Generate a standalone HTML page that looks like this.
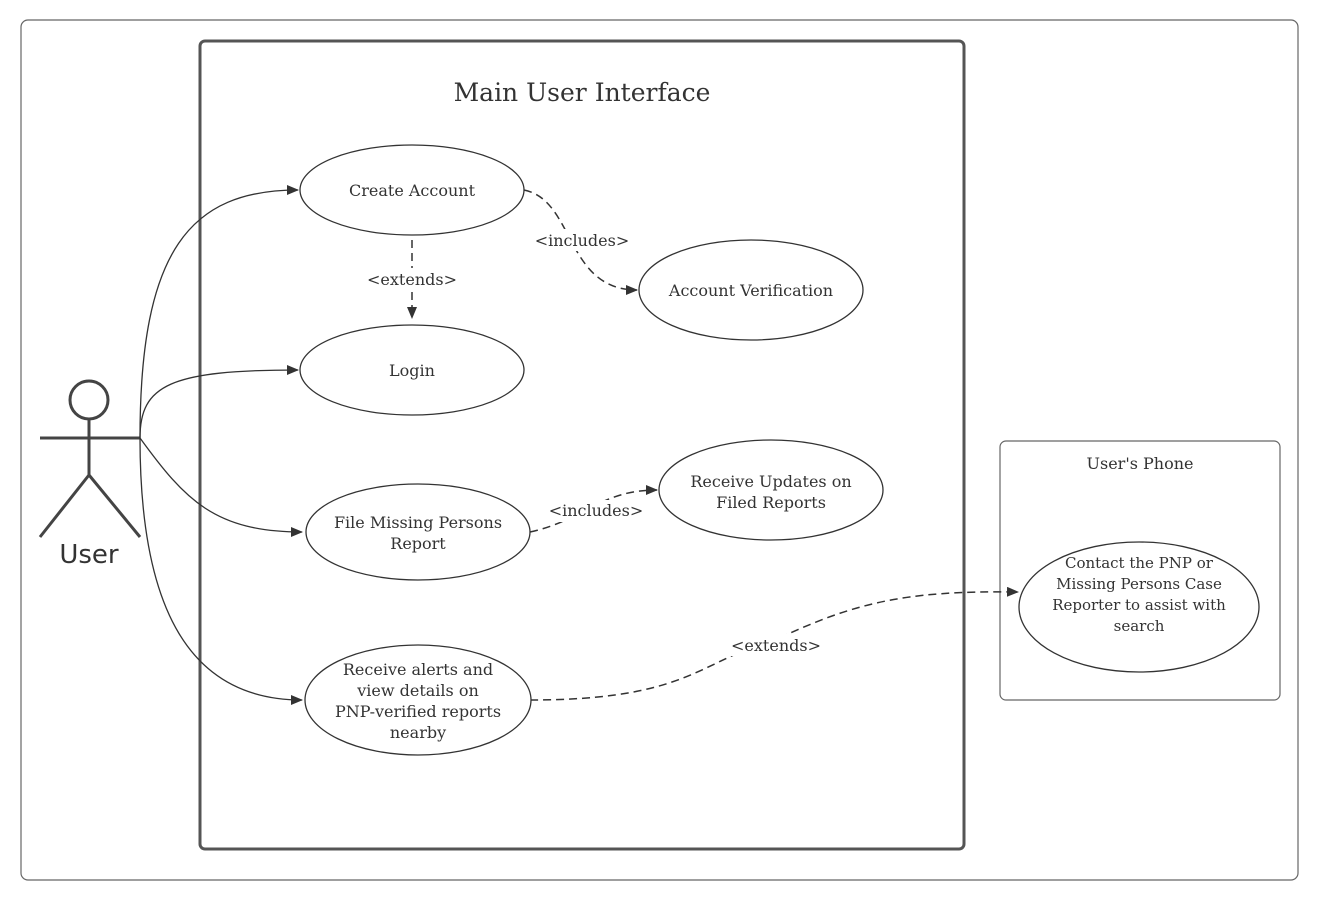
<!DOCTYPE html>
<html><head><meta charset="utf-8"><style>
html,body{margin:0;padding:0;background:#fff;}
svg{display:block;}
text{font-family:"DejaVu Serif","Liberation Serif",serif;fill:#333;}
</style></head><body>
<svg width="1318" height="900" viewBox="0 0 1318 900" xmlns="http://www.w3.org/2000/svg">
<defs>
<marker id="a" markerWidth="12" markerHeight="10" refX="11" refY="5" orient="auto" markerUnits="userSpaceOnUse">
<path d="M0,0 L12,5 L0,10 Z" fill="#333"/></marker>
</defs>
<rect x="21" y="20" width="1277" height="860" rx="7" fill="none" stroke="#666" stroke-width="1.2"/>
<rect x="200" y="41" width="764" height="808" rx="5" fill="none" stroke="#555" stroke-width="3"/>
<text x="582" y="101" font-size="25" text-anchor="middle">Main User Interface</text>
<rect x="1000" y="441" width="280" height="259" rx="6" fill="none" stroke="#666" stroke-width="1.2"/>
<text x="1140" y="469" font-size="16" text-anchor="middle">User's Phone</text>

<g stroke="#444" stroke-width="3" fill="none">
<circle cx="89" cy="400" r="19"/>
<line x1="89" y1="419" x2="89" y2="475"/>
<line x1="40" y1="438" x2="140" y2="438"/>
<line x1="89" y1="475" x2="40" y2="537"/>
<line x1="89" y1="475" x2="140" y2="537"/>
</g>
<text x="89" y="563" font-size="26" text-anchor="middle" style="font-family:'DejaVu Sans','Liberation Sans',sans-serif">User</text>

<g stroke="#333" stroke-width="1.3" fill="none" marker-end="url(#a)">
<path d="M140,438 C140,250 190,190 298,190"/>
<path d="M140,438 C140,385 170,370 298,370"/>
<path d="M140,438 C185,500 215,532 302,532"/>
<path d="M140,438 C140,610 190,700 302,700"/>
</g>
<g stroke="#333" stroke-width="1.5" fill="none" stroke-dasharray="8,5" marker-end="url(#a)">
<path d="M524,190 C575,200 565,290 637,290"/>
<path d="M412,240 L412,318"/>
<path d="M530,532 C585,520 600,490 657,490"/>
<path d="M530,700 C690,700 700,660 775,640 C850,605 900,590 1018,592"/>
</g>
<g font-size="16" text-anchor="middle">
<rect x="535" y="229" width="95" height="22" fill="#fff"/>
<text x="582" y="246">&lt;includes&gt;</text>
<rect x="366" y="268" width="92" height="22" fill="#fff"/>
<text x="412" y="285">&lt;extends&gt;</text>
<rect x="549" y="500" width="95" height="22" fill="#fff"/>
<text x="596" y="516">&lt;includes&gt;</text>
<rect x="730" y="634" width="92" height="22" fill="#fff"/>
<text x="776" y="651">&lt;extends&gt;</text>
</g>

<g fill="#fff" stroke="#333" stroke-width="1.3">
<ellipse cx="412" cy="190" rx="112" ry="45"/>
<ellipse cx="412" cy="370" rx="112" ry="45"/>
<ellipse cx="751" cy="290" rx="112" ry="50"/>
<ellipse cx="418" cy="532" rx="112" ry="48"/>
<ellipse cx="771" cy="490" rx="112" ry="50"/>
<ellipse cx="418" cy="700" rx="113" ry="55"/>
<ellipse cx="1139" cy="607" rx="120" ry="65"/>
</g>
<g font-size="16" text-anchor="middle">
<text x="412" y="196">Create Account</text>
<text x="412" y="376">Login</text>
<text x="751" y="296">Account Verification</text>
<text x="418" y="528">File Missing Persons</text>
<text x="418" y="549">Report</text>
<text x="771" y="487">Receive Updates on</text>
<text x="771" y="508">Filed Reports</text>
<text x="418" y="675">Receive alerts and</text>
<text x="418" y="696">view details on</text>
<text x="418" y="717">PNP-verified reports</text>
<text x="418" y="738">nearby</text>
</g>
<g font-size="15" text-anchor="middle">
<text x="1139" y="568">Contact the PNP or</text>
<text x="1139" y="589">Missing Persons Case</text>
<text x="1139" y="610">Reporter to assist with</text>
<text x="1139" y="631">search</text>
</g>
</svg>
</body></html>
